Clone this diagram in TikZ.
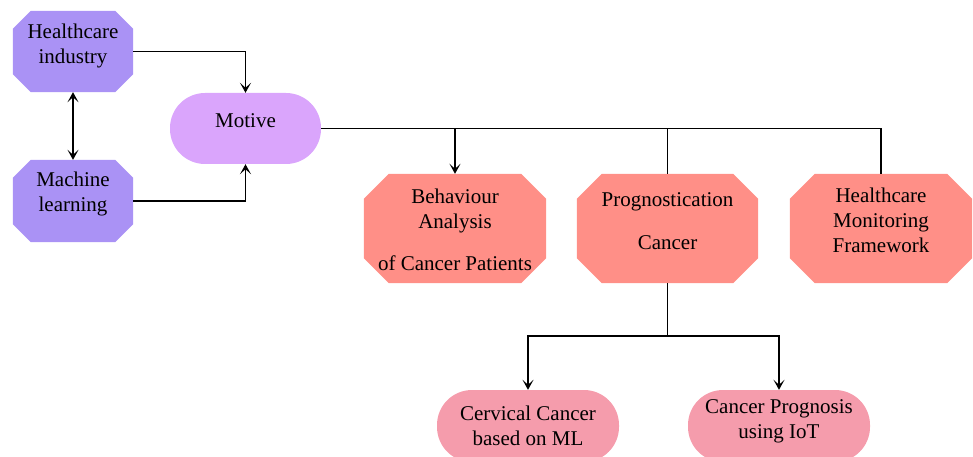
\documentclass[tikz,border=0pt]{standalone}
\usepackage{fontspec}
\setmainfont{Liberation Serif}
\usetikzlibrary{arrows.meta}
\definecolor{cpurple}{RGB}{170,146,245}
\definecolor{cmotive}{RGB}{218,165,252}
\definecolor{csalmon}{RGB}{255,143,135}
\definecolor{cpink}{RGB}{245,156,172}
\newcommand\octshape[3]{% node name, chamfer, colour
  \fill[#3] ([xshift=#2]#1.north west) -- ([xshift=-#2]#1.north east)
    -- ([yshift=-#2]#1.north east) -- ([yshift=#2]#1.south east)
    -- ([xshift=-#2]#1.south east) -- ([xshift=#2]#1.south west)
    -- ([yshift=#2]#1.south west) -- ([yshift=-#2]#1.north west) -- cycle;}
\tikzset{
  txt/.style={font=\fontsize{21}{25}\selectfont, align=center, inner sep=0pt},
  box/.style={rectangle, draw=none, inner sep=0pt},
  pill/.style={rectangle, rounded corners=35pt, draw=none, inner sep=0pt, minimum width=182pt, minimum height=72pt},
  conn/.style={line width=1.6pt, draw=black},
  arr/.style={conn, -{Stealth[length=10pt,width=11pt,inset=5pt]}},
  darr/.style={conn, {Stealth[length=10pt,width=11pt,inset=5pt]}-{Stealth[length=10pt,width=11pt,inset=5pt]}}
}
\begin{document}
\begin{tikzpicture}[x=1pt,y=-1pt]
\useasboundingbox (0,0) rectangle (973,457);
\clip (0,0) rectangle (973,457);
% top-left nodes
\node[box, minimum width=120pt, minimum height=81pt] (hi) at (73,51.5) {};
\octshape{hi}{18pt}{cpurple}
\node[txt] (hiT) at (73,45.5) {Healthcare\\industry};
\node[box, minimum width=120pt, minimum height=82pt] (ml) at (73,201) {};
\octshape{ml}{18pt}{cpurple}
\node[txt] (mlT) at (73,194) {Machine\\learning};
\node[rectangle, rounded corners=35pt, fill=cmotive, minimum width=151pt, minimum height=71pt, inner sep=0pt] (mot) at (245.5,128.5) {};
\node[txt] (motT) at (245.5,121) {Motive};
% middle row
\node[box, minimum width=182pt, minimum height=109pt] (beh) at (455,228.5) {};
\octshape{beh}{25pt}{csalmon}
\node[txt] (behT) at (455,230) {Behaviour\\Analysis\\[17pt]of Cancer Patients};
\node[box, minimum width=181pt, minimum height=109pt] (prog) at (667.5,228.5) {};
\octshape{prog}{25pt}{csalmon}
\node[txt] (progT) at (667.5,221) {Prognostication\\[18pt]Cancer};
\node[box, minimum width=182pt, minimum height=109pt] (hmf) at (881,228.5) {};
\octshape{hmf}{25pt}{csalmon}
\node[txt] (hmfT) at (881,220) {Healthcare\\Monitoring\\Framework};
% bottom row
\node[pill, fill=cpink] (cerv) at (528,426) {};
\node[txt] (cervT) at (528,426) {Cervical Cancer\\based on ML};
\node[pill, fill=cpink] (cp) at (779,426) {};
\node[txt] (cpT) at (779,421) {Cancer Prognosis\\using IoT};
% connectors
\draw[arr] (hi.east) -| (mot.north);
\draw[arr] (ml.east) -| (mot.south);
\draw[darr] (hi.south) -- (ml.north);
\draw[conn] (mot.east) -| (hmf.north);
\draw[arr] (beh.north |- mot.east) -- (beh.north);
\draw[conn] (prog.north |- mot.east) -- (prog.north);
\coordinate (j2) at (667.5,336);
\draw[conn] (prog.south) -- (j2);
\draw[arr] (j2) -| (cerv.north);
\draw[arr] (j2) -| (cp.north);
\end{tikzpicture}
\end{document}
